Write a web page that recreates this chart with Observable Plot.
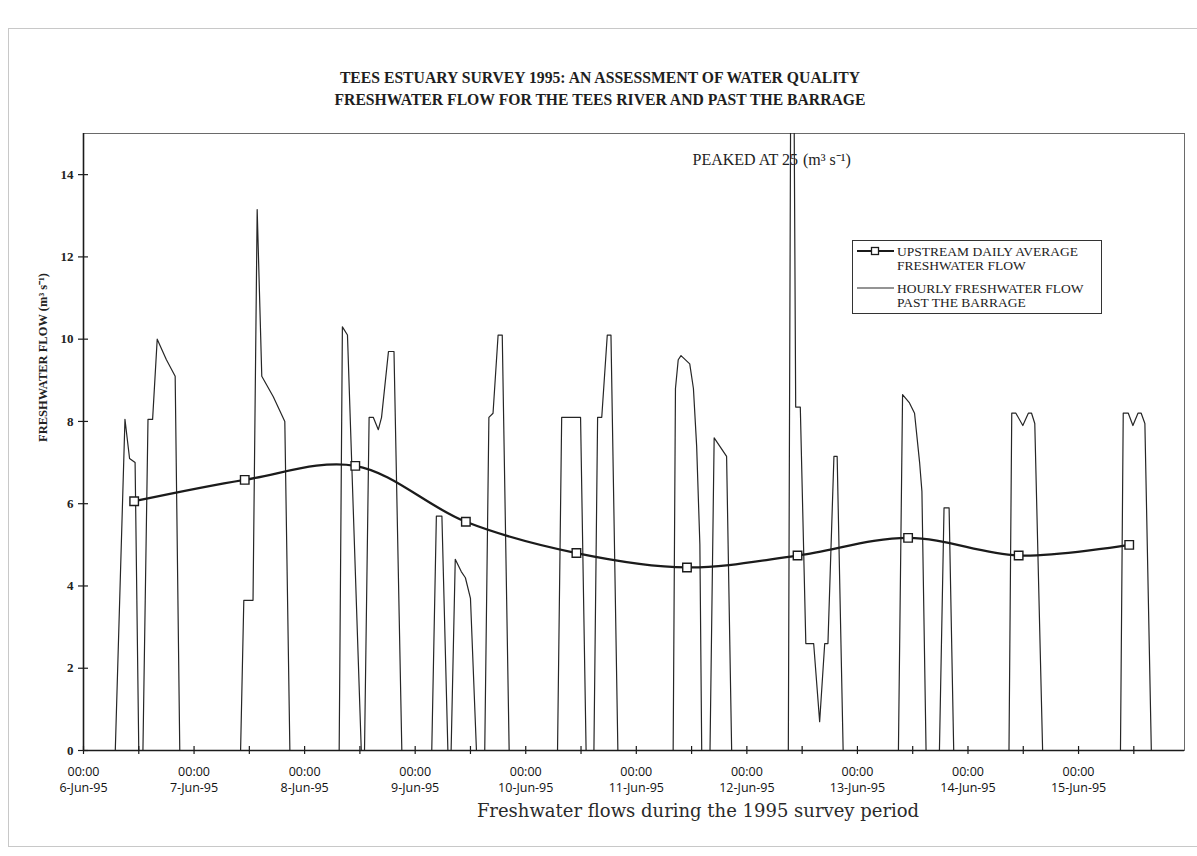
<!DOCTYPE html>
<html>
<head>
<meta charset="utf-8">
<script src="https://cdn.jsdelivr.net/npm/d3@7"></script>
<script src="https://cdn.jsdelivr.net/npm/@observablehq/plot@0.6"></script>
<style>
  body { margin: 0; background: #fff; }
  #wrap { position: relative; width: 1197px; height: 856px; overflow: hidden; background: #fff; }
  #page { position: absolute; left: 8px; top: 28px; width: 1200px; height: 817px;
          border-left: 1px solid #c8c8c8; border-top: 1px solid #c8c8c8; border-bottom: 1px solid #c8c8c8; }
  #chart { position: absolute; left: 0; top: 0; }
  .title { position: absolute; left: 0; width: 1200px; text-align: center; white-space: nowrap;
           font-family: "Liberation Serif", "Times New Roman", serif; font-weight: bold;
           font-size: 15.7px; line-height: 18px; color: #1e1e1e; }
  #xlabel { position: absolute; top: 800px; left: 398px; width: 600px; text-align: center; white-space: nowrap;
            font-family: "DejaVu Serif", serif; font-size: 18px; line-height: 22px; color: #2a2a2a; }
  #legend { position: absolute; left: 852px; top: 240px; width: 248px; height: 72px;
            border: 1px solid #333; background: #fff; }
  #legend .t { position: absolute; left: 44px; white-space: nowrap;
               font-family: "Liberation Serif", "Times New Roman", serif; font-size: 13.5px;
               line-height: 15px; color: #222; }
  #legend svg { position: absolute; left: 0; top: 0; }
</style>
</head>
<body>
<div id="wrap">
  <div id="page"></div>
  <div class="title" id="t1" style="top:69px"></div>
  <div class="title" id="t2" style="top:91px"></div>
  <div id="chart"></div>
  <div id="legend"></div>
  <div id="xlabel"></div>
</div>
<script>
// ---------- text ----------
const titleLines = [
  "TEES ESTUARY SURVEY 1995: AN ASSESSMENT OF WATER QUALITY",
  "FRESHWATER FLOW FOR THE TEES RIVER AND PAST THE BARRAGE"
];
const yAxisLabel = "FRESHWATER FLOW (m³ s⁻¹)";
const xAxisLabel = "Freshwater flows during the 1995 survey period";
const seriesNames = [
  ["UPSTREAM DAILY AVERAGE", "FRESHWATER FLOW"],
  ["HOURLY FRESHWATER FLOW", "PAST THE BARRAGE"]
];
const peakLabelLeft = "PEAKED AT 25";
const peakLabelRight = "(m³ s⁻¹)";
const peakHour = 153.8;
const peakLabelValue = 14.35;

// ---------- tick labels ----------
const dayLabels = ["6-Jun-95","7-Jun-95","8-Jun-95","9-Jun-95","10-Jun-95",
                   "11-Jun-95","12-Jun-95","13-Jun-95","14-Jun-95","15-Jun-95"];
const timeLabel = "00:00";
const yTicks = [0, 2, 4, 6, 8, 10, 12, 14];

// ---------- data (hours after 00:00 6-Jun-95) ----------
const hourlyHours = [
  0,
  6.9, 9.0, 10.0, 11.2, 12.0,
  12.9, 14.0, 15.0, 16.0, 18.0, 19.9, 20.9,
  34.1, 34.8, 36.8, 37.7, 38.7, 41.2, 43.7, 44.8,
  55.5, 56.2, 57.3, 60.3,
  61.0, 62.0, 62.9, 64.0, 64.7, 66.2, 67.4, 69.1,
  75.6, 76.6, 77.8, 79.1,
  79.8, 80.7, 82.0, 82.9, 84.0, 85.3,
  87.1, 88.0, 88.9, 90.0, 90.9, 92.4,
  102.9, 103.8, 107.9, 109.1,
  110.8, 111.6, 112.5, 113.7, 114.5, 116.0,
  128.0, 128.5, 129.1, 129.7, 131.6, 132.4, 133.1, 133.8, 134.2,
  136.0, 136.9, 139.6, 140.7,
  153.0, 153.8, 154.6, 155.6, 156.8, 158.5, 159.8, 160.9, 161.6, 162.9, 163.6, 164.9,
  176.9, 177.8, 179.3, 180.4, 181.5, 182.0, 182.9,
  185.8, 186.8, 187.9, 188.9,
  200.9, 201.5, 202.4, 203.9, 205.1, 205.8, 206.5, 208.2,
  225.1, 225.7, 226.8, 227.8, 228.9, 229.6, 230.4, 231.8,
  239
];
const hourlyFlow = [
  0,
  0, 8.05, 7.1, 7.0, 0,
  0, 8.05, 8.05, 10.0, 9.5, 9.1, 0,
  0, 3.65, 3.65, 13.15, 9.1, 8.6, 8.0, 0,
  0, 10.3, 10.1, 0,
  0, 8.1, 8.1, 7.8, 8.1, 9.7, 9.7, 0,
  0, 5.7, 5.7, 0,
  0, 4.65, 4.35, 4.2, 3.7, 0,
  0, 8.1, 8.2, 10.1, 10.1, 0,
  0, 8.1, 8.1, 0,
  0, 8.1, 8.1, 10.1, 10.1, 0,
  0, 8.8, 9.5, 9.6, 9.4, 8.8, 7.4, 5.0, 0,
  0, 7.6, 7.15, 0,
  0, 25, 8.35, 8.35, 2.6, 2.6, 0.7, 2.6, 2.6, 7.15, 7.15, 0,
  0, 8.65, 8.45, 8.2, 7.0, 6.3, 0,
  0, 5.9, 5.9, 0,
  0, 8.2, 8.2, 7.9, 8.2, 8.2, 7.95, 0,
  0, 8.2, 8.2, 7.9, 8.2, 8.2, 7.95, 0,
  0
];
const dailyHours = [11, 35, 59, 83, 107, 131, 155, 179, 203, 227];
const dailyFlow  = [6.06, 6.58, 6.92, 5.56, 4.80, 4.45, 4.74, 5.17, 4.74, 5.00];

const domainHours = [0, 239];

// ---------- build ----------
const BASE = Date.UTC(1995, 5, 6);
const toDate = h => new Date(BASE + h * 3600e3);
const hourly = hourlyHours.map((h, i) => ({date: toDate(h), flow: hourlyFlow[i]}));
const daily = dailyHours.map((h, i) => ({date: toDate(h), flow: dailyFlow[i]}));
const dayTicks = dayLabels.map((_, i) => toDate(i * 24));
const halfDayTicks = d3.range(0, dayLabels.length * 2).map(i => toDate(i * 12));
const dayLabelOf = d => dayLabels[Math.round((d - BASE) / 864e5)];
const startDate = toDate(domainHours[0]);

const serif = "Liberation Serif, Times New Roman, serif";
const ink = "#1b1b1b";

const chart = Plot.plot({
  width: 1197,
  height: 856,
  marginLeft: 83,
  marginRight: 13,
  marginTop: 133,
  marginBottom: 106,
  style: {fontFamily: serif, fontSize: "13px", color: ink, background: "transparent", overflow: "visible"},
  x: {type: "utc", domain: domainHours.map(toDate)},
  y: {domain: [0, 15]},
  marks: [
    Plot.frame({stroke: "#6a6a6a", strokeWidth: 1}),
    Plot.lineY(hourly, {x: "date", y: "flow", stroke: "#262626", strokeWidth: 1.2, clip: true}),
    Plot.line(daily, {x: "date", y: "flow", curve: "catmull-rom", stroke: ink, strokeWidth: 2.3}),
    Plot.dot(daily, {x: "date", y: "flow", symbol: "square", r: 4.8, fill: "white", stroke: ink, strokeWidth: 1.4}),
    Plot.ruleY([0], {stroke: ink, strokeWidth: 1.6}),
    Plot.ruleX([startDate], {stroke: ink, strokeWidth: 1.6}),
    Plot.ruleX(halfDayTicks, {x: d => d, y1: 0, y2: 0, insetTop: -4, insetBottom: -4, stroke: ink, strokeWidth: 1.2}),
    Plot.ruleY(yTicks, {y: d => d, x1: startDate, x2: startDate, insetLeft: -5, insetRight: -5, stroke: ink, strokeWidth: 1.2}),
    Plot.axisX({ticks: dayTicks, tickSize: 0, tickPadding: 14, label: null,
                tickFormat: d => timeLabel + "\n" + dayLabelOf(d),
                fontFamily: "Open Sans, Noto Sans, sans-serif", fontSize: 12.5, lineHeight: 1.3, fill: "#111"}),
    Plot.axisY({ticks: yTicks, tickSize: 0, tickPadding: 10, label: null,
                fontFamily: serif, fontSize: 13, fontWeight: "bold", fill: "#222"}),
    Plot.text([yAxisLabel], {frameAnchor: "left", rotate: -90, dx: -41,
                fontFamily: serif, fontSize: 12.5, fontWeight: "bold", fill: "#222"}),
    Plot.text([{date: toDate(peakHour), value: peakLabelValue, t: peakLabelLeft}],
              {x: "date", y: "value", text: "t", textAnchor: "end", dx: 6,
               fontFamily: serif, fontSize: 16, fill: "#222"}),
    Plot.text([{date: toDate(peakHour), value: peakLabelValue, t: peakLabelRight}],
              {x: "date", y: "value", text: "t", textAnchor: "start", dx: 11,
               fontFamily: serif, fontSize: 16, fill: "#222"})
  ]
});
document.getElementById("chart").appendChild(chart);

// titles / axis label
document.getElementById("t1").textContent = titleLines[0];
document.getElementById("t2").textContent = titleLines[1];
document.getElementById("xlabel").textContent = xAxisLabel;

// legend
const legend = document.getElementById("legend");
legend.innerHTML = `
  <svg width="44" height="72">
    <line x1="4" x2="41" y1="10" y2="10" stroke="${ink}" stroke-width="2.2"/>
    <rect x="18.5" y="6.5" width="7" height="7" fill="white" stroke="${ink}" stroke-width="1.3"/>
    <line x1="4" x2="41" y1="47" y2="47" stroke="#2b2b2b" stroke-width="1.2"/>
  </svg>`;
const rows = [[2.5, seriesNames[0][0]], [17, seriesNames[0][1]], [39.5, seriesNames[1][0]], [54, seriesNames[1][1]]];
rows.forEach(([top, txt]) => {
  const d = document.createElement("div");
  d.className = "t";
  d.style.top = top + "px";
  d.textContent = txt;
  legend.appendChild(d);
});
</script>
</body>
</html>
